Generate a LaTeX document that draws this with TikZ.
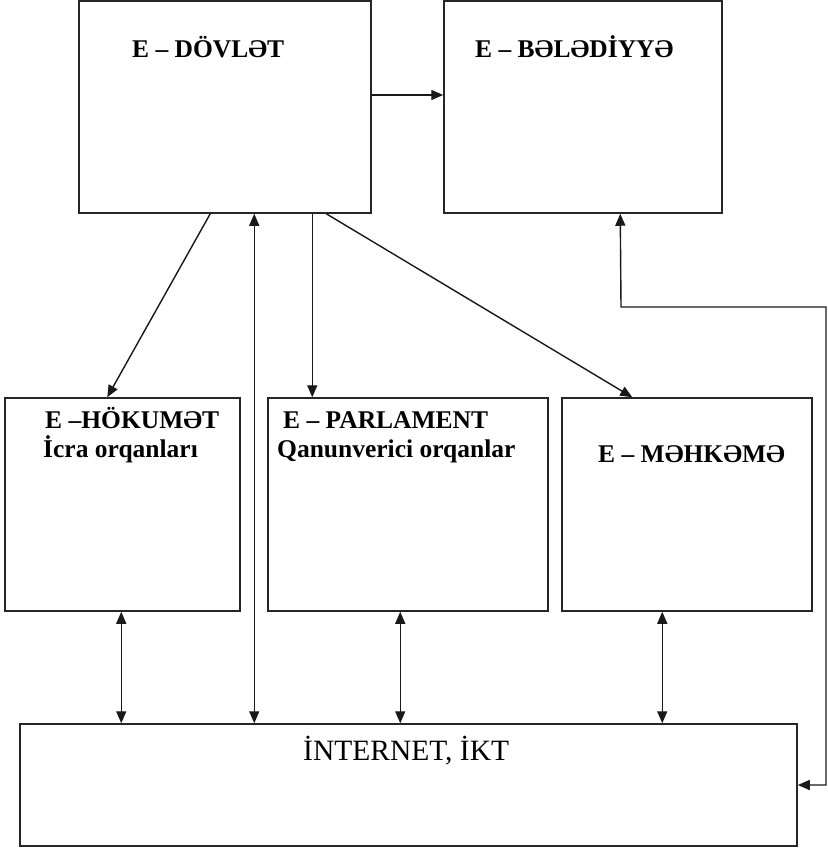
\documentclass[tikz,border=0pt]{standalone}
\usepackage{fontspec}
\setmainfont{Liberation Serif}
\usetikzlibrary{arrows.meta}
\begin{document}
\begin{tikzpicture}[x=1pt,y=-1pt,
  box/.style={draw=black!85,line width=1.5pt,rectangle,inner sep=0pt},
  lbl/.style={anchor=base west,inner sep=0pt,font=\fontsize{25.5}{30}\selectfont\bfseries},
  conn/.style={draw=black!90,line width=1.4pt},
  tip/.style={conn,-{Triangle[length=12pt,width=10pt]}},
  dbl/.style={conn,{Triangle[length=12pt,width=10pt]}-{Triangle[length=12pt,width=10pt]}}]
\useasboundingbox (0,0) rectangle (827,850);
% boxes
\node[box,minimum width=292pt,minimum height=212pt] (dov) at (225,107) {};
\node[box,minimum width=278pt,minimum height=212pt] (bel) at (583,107) {};
\node[box,minimum width=235pt,minimum height=213pt] (hok) at (122.5,504.5) {};
\node[box,minimum width=280pt,minimum height=213pt] (par) at (408,504.5) {};
\node[box,minimum width=250pt,minimum height=213pt] (meh) at (687,504.5) {};
\node[box,minimum width=777pt,minimum height=122pt] (int) at (408.5,785) {};
% texts
\node[lbl] (tdov) at (132,58) {E – DÖVLƏT};
\node[lbl] (tbel) at (475,58) {E – BƏLƏDİYYƏ};
\node[lbl] (thok) at (45,428) {E –HÖKUMƏT};
\node[lbl] (thok2) at (43,457) {İcra orqanları};
\node[lbl] (tpar) at (283,428) {E – PARLAMENT};
\node[lbl] (tpar2) at (277,457) {Qanunverici orqanlar};
\node[lbl] (tmeh) at (598,462) {E – MƏHKƏMƏ};
\node[anchor=base west,inner sep=0pt,font=\fontsize{29.5}{34}\selectfont] (tint) at (303,760) {İNTERNET, İKT};
% connectors
\draw[tip] ([yshift=12pt]dov.east) -- ([yshift=12pt]bel.west);
\draw[tip] ([xshift=132pt]dov.south west) -- ([xshift=103pt]hok.north west);
\draw[tip] ([xshift=234pt]dov.south west) -- ([xshift=45pt]par.north west);
\draw[tip] ([xshift=248pt]dov.south west) -- ([xshift=71pt]meh.north west);
\draw[dbl] ([xshift=176pt]dov.south west) -- ([xshift=235pt]int.north west);
\draw[dbl] ([xshift=117pt]hok.south west) -- ([xshift=102pt]int.north west);
\draw[dbl] ([xshift=133pt]par.south west) -- ([xshift=381pt]int.north west);
\draw[dbl] ([xshift=101pt]meh.south west) -- ([xshift=643pt]int.north west);
\coordinate (r1) at (826,785);
\coordinate (r2) at (826,307);
\coordinate (r3) at (621,307);
\draw[dbl] (int.east) -- (r1) -- (r2) -- (r3) -- ([xshift=177pt]bel.south west);
\end{tikzpicture}
\end{document}
